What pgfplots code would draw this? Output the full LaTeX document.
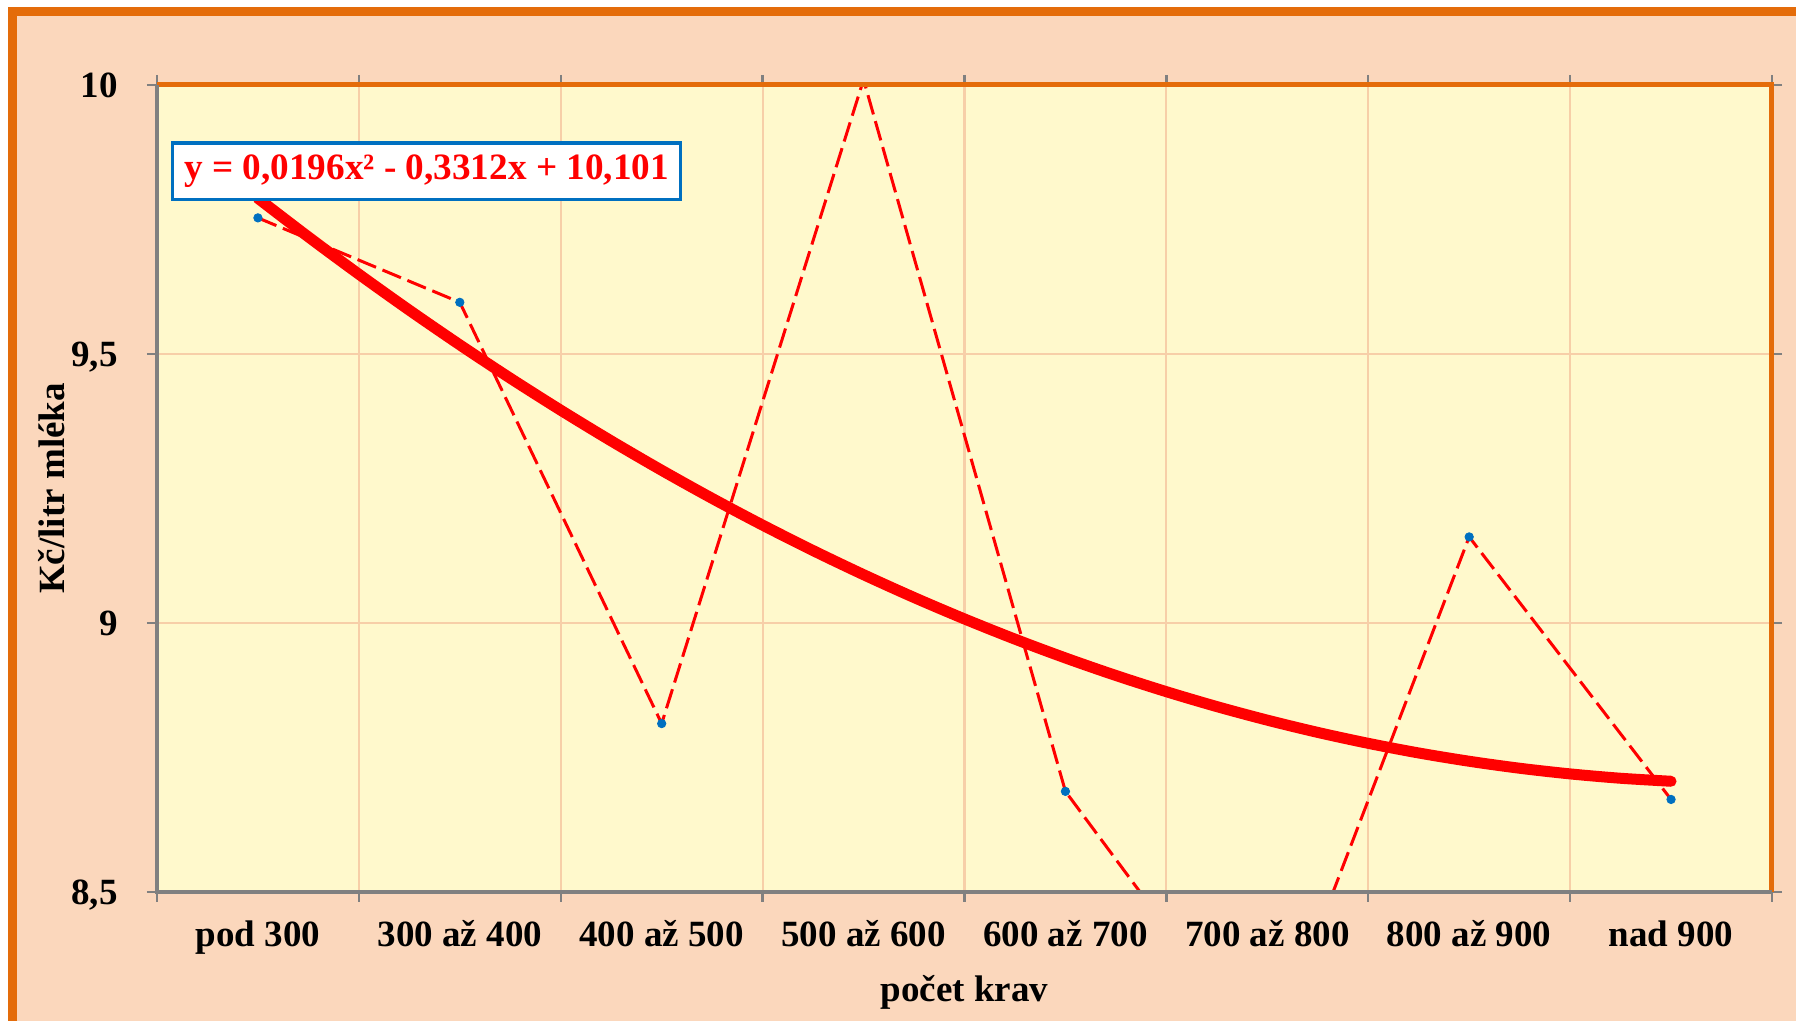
\documentclass[border=0pt]{standalone}
\usepackage{fontspec}
\setmainfont{Liberation Serif}
\usepackage{pgfplots}
\pgfplotsset{compat=1.18}
\definecolor{frameorange}{HTML}{E46C0A}
\definecolor{peach}{HTML}{FBD7BC}
\definecolor{plotbg}{HTML}{FFF9CC}
\definecolor{gridc}{HTML}{F7CFA8}
\definecolor{tickgray}{HTML}{808080}
\definecolor{mblue}{HTML}{0070C0}
\newcommand{\lblfont}{\bfseries\fontsize{18.5}{21}\selectfont}
\begin{document}
\begin{tikzpicture}
\fill[white] (0,0) rectangle (898pt,510.5pt);
\fill[peach] (6.25pt,-10pt) rectangle (910pt,504.5pt);
\draw[frameorange, line width=4.5pt] (6.25pt,-10pt) -- (6.25pt,504.5pt) -- (910pt,504.5pt);
\begin{axis}[
  at={(78.5pt,64.5pt)}, anchor=south west,
  scale only axis, width=807.5pt, height=403.5pt,
  xmin=0.5, xmax=8.5, ymin=8.5, ymax=10,
  clip mode=individual,
  axis background/.style={fill=plotbg},
  axis line style={draw=none},
  tick align=outside,
  major tick length=5pt,
  tick style={tickgray, line width=1.2pt},
  xtick={0.5,1.5,...,8.5}, xticklabels={},
  extra x ticks={1,2,3,4,5,6,7,8},
  extra x tick labels={pod 300,300 až 400,400 až 500,500 až 600,600 až 700,700 až 800,800 až 900,nad 900},
  extra x tick style={major tick length=0pt, grid=none,
     xticklabel style={anchor=base, yshift=-27.3pt, font=\lblfont}},
  ytick={8.5,9,9.5,10}, yticklabels={{8,5},9,{9,5},10},
  yticklabel style={anchor=east, inner sep=0pt, text depth=0pt, xshift=-14.5pt, font=\lblfont},
  xmajorgrids, ymajorgrids,
  grid style={gridc, line width=1.1pt},
  xlabel={počet krav},
  xlabel style={at={(axis description cs:0.5,0)}, anchor=base, yshift=-55pt, font=\lblfont},
  ylabel={Kč/litr mléka},
  ylabel style={at={(axis description cs:-0.057,0.5)}, anchor=base, font=\lblfont},
]
% data series (dashed red line)
\addplot[red, line width=1.5pt, dash pattern=on 10pt off 3.5pt, no marks] coordinates {
  (1,9.753) (2,9.596) (3,8.813) (4,10.01) (5,8.687) (6,8.181) (7,9.160) (8,8.672)
};
% polynomial trend line values
\addplot[red, line width=5.5pt, line cap=round, smooth, no marks] coordinates {
  (1,9.7894) (1.25,9.7176) (1.5,9.6483) (1.75,9.5814) (2,9.5170) (2.25,9.4550)
  (2.5,9.3955) (2.75,9.3384) (3,9.2838) (3.25,9.2316) (3.5,9.1819) (3.75,9.1346)
  (4,9.0898) (4.25,9.0474) (4.5,9.0075) (4.75,8.9700) (5,8.9350) (5.25,8.9024)
  (5.5,8.8723) (5.75,8.8446) (6,8.8194) (6.25,8.7966) (6.5,8.7763) (6.75,8.7584)
  (7,8.7430) (7.25,8.7300) (7.5,8.7195) (7.75,8.7114) (8,8.7058)
};
% markers
\addplot[only marks, mark=*, mark size=2.1pt, mark options={fill=mblue, draw=mblue}] coordinates {
  (1,9.753) (2,9.596) (3,8.813) (4,10.01) (5,8.687) (6,8.181) (7,9.160) (8,8.672)
};
\draw[frameorange, line width=2.5pt] (rel axis cs:0,1) -- (rel axis cs:1,1) -- (rel axis cs:1,0);
\draw[tickgray, line width=1.6pt] (rel axis cs:0,1) -- (rel axis cs:0,0) -- (rel axis cs:1,0);
\node[draw=mblue, line width=1.6pt, fill=white, text=red, font=\bfseries\fontsize{18.6}{20}\selectfont,
      anchor=north west, minimum width=254pt, minimum height=28.3pt, inner sep=2pt]
  at (axis cs:0.5693,9.8952) {y = 0,0196x² - 0,3312x + 10,101};
\end{axis}
\pgfresetboundingbox
\useasboundingbox (0,0) rectangle (898pt,510.5pt);
\end{tikzpicture}
\end{document}
